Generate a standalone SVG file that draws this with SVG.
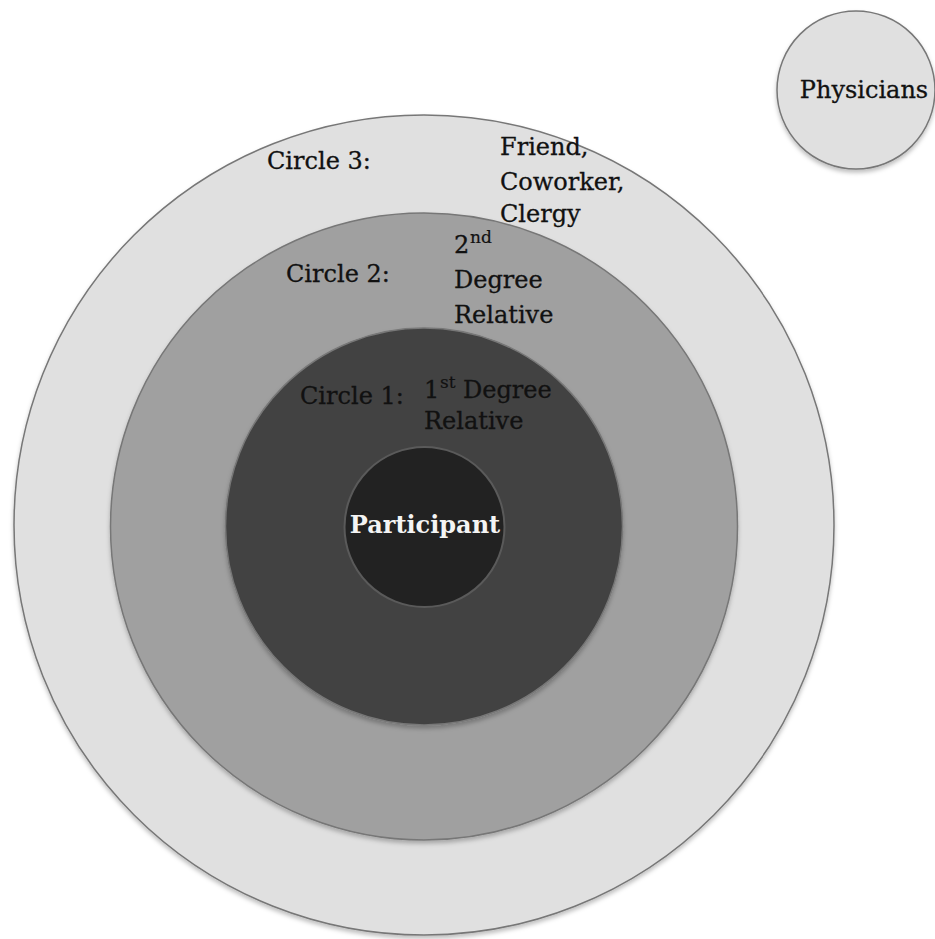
<svg xmlns="http://www.w3.org/2000/svg" width="935" height="939" viewBox="0 0 935 939">
<defs>
<filter id="sh" x="-10%" y="-10%" width="120%" height="120%">
<feDropShadow dx="0" dy="3" stdDeviation="2" flood-color="#000" flood-opacity="0.25"/>
</filter>
</defs>
<style>
.ring{stroke:#777;stroke-width:1.5;filter:url(#sh)}
.t{font-family:"DejaVu Serif","Liberation Serif",serif;font-size:24px;fill:#111;stroke:#111;stroke-width:0.3}
.sup{font-family:"DejaVu Serif","Liberation Serif",serif;font-size:17px;fill:#111;stroke:#111;stroke-width:0.2}
.p{font-family:"DejaVu Serif","Liberation Serif",serif;font-size:24px;font-weight:bold;fill:#f4f4f4}
</style>
<rect width="935" height="939" fill="#fff"/>
<g id="circle3">
<circle class="ring" cx="424" cy="525" r="410" fill="#e0e0e0"/>
<text class="t" x="267" y="169">Circle 3:</text>
<text class="t" x="500" y="155">Friend,</text>
<text class="t" x="500" y="190">Coworker,</text>
<text class="t" x="500" y="222">Clergy</text>
</g>
<g id="circle2">
<circle class="ring" cx="424" cy="526.5" r="313.5" fill="#a0a0a0"/>
<text class="t" x="286" y="282">Circle 2:</text>
<text class="t" x="454" y="253">2</text>
<text class="sup" x="470" y="243">nd</text>
<text class="t" x="454" y="288">Degree</text>
<text class="t" x="454" y="323">Relative</text>
</g>
<g id="circle1">
<circle class="ring" cx="424" cy="526.5" r="198.5" fill="#424242"/>
<text class="t" x="300" y="404">Circle 1:</text>
<text class="t" x="424" y="398">1</text>
<text class="sup" x="440" y="388">st</text>
<text class="t" x="463" y="398">Degree</text>
<text class="t" x="424" y="429">Relative</text>
</g>
<g id="participant">
<circle cx="424.5" cy="527" r="80" fill="#222" stroke="#5a5a5a" stroke-width="2"/>
<text class="p" x="425" y="533" text-anchor="middle">Participant</text>
</g>
<g id="physicians">
<circle class="ring" cx="856" cy="90" r="79" fill="#e0e0e0"/>
<text class="t" x="864" y="98" text-anchor="middle">Physicians</text>
</g>
<g id="connectors"/>
</svg>
